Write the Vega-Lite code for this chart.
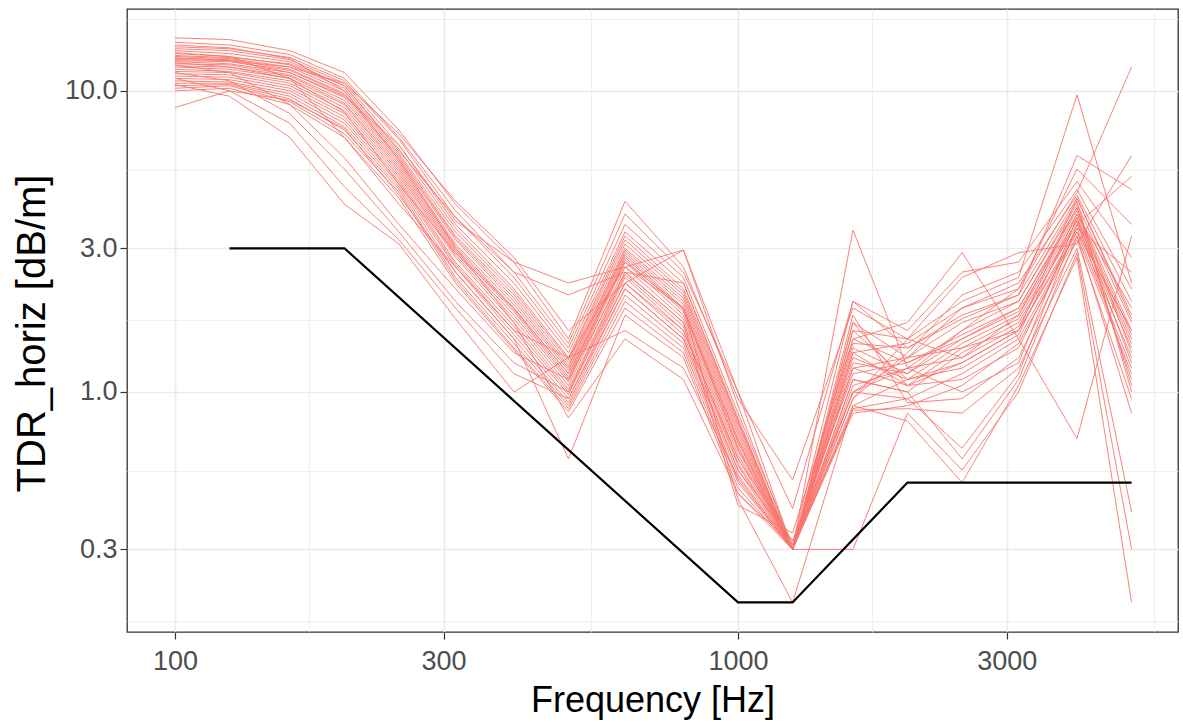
{
"$schema": "https://vega.github.io/schema/vega-lite/v6.json",
"width": 1051, "height": 623,
"autosize": "none",
"padding": {"left": 127, "top": 9, "right": 5, "bottom": 90},
"background": "white",
"config": {"view": {"stroke": "#333333", "strokeWidth": 1.3}, "font": "Liberation Sans",
  "axis": {"domain": false, "gridColor": "#EBEBEB", "tickColor": "#333333", "tickSize": 7, "tickWidth": 1.2, "labelColor": "#4D4D4D", "labelFontSize": 27, "labelFont": "Liberation Sans", "titleFont": "Liberation Sans", "titleFontWeight": "normal", "titleColor": "#000000"}},
"datasets": {
"red": [
{"s":1,"f":100,"v":15.0},{"s":1,"f":125,"v":14.8},{"s":1,"f":160,"v":13.6},{"s":1,"f":200,"v":11.5},{"s":1,"f":250,"v":7.4},{"s":1,"f":315,"v":4.2},{"s":1,"f":400,"v":2.7},{"s":1,"f":500,"v":1.5},{"s":1,"f":630,"v":4.3},{"s":1,"f":800,"v":2.6},{"s":1,"f":1000,"v":0.95},{"s":1,"f":1250,"v":0.51},{"s":1,"f":1600,"v":1.9},{"s":1,"f":2000,"v":1.5},{"s":1,"f":2500,"v":2.0},{"s":1,"f":3150,"v":2.4},{"s":1,"f":4000,"v":9.7},{"s":1,"f":5000,"v":2.3},
{"s":2,"f":100,"v":14.5},{"s":2,"f":125,"v":14.2},{"s":2,"f":160,"v":13.2},{"s":2,"f":200,"v":11.0},{"s":2,"f":250,"v":7.0},{"s":2,"f":315,"v":4.0},{"s":2,"f":400,"v":2.5},{"s":2,"f":500,"v":1.45},{"s":2,"f":630,"v":3.9},{"s":2,"f":800,"v":2.5},{"s":2,"f":1000,"v":1.0},{"s":2,"f":1250,"v":0.30},{"s":2,"f":1600,"v":3.45},{"s":2,"f":2000,"v":1.2},{"s":2,"f":2500,"v":1.6},{"s":2,"f":3150,"v":2.2},{"s":2,"f":4000,"v":4.6},{"s":2,"f":5000,"v":12.0},
{"s":3,"f":100,"v":14.0},{"s":3,"f":125,"v":13.8},{"s":3,"f":160,"v":12.9},{"s":3,"f":200,"v":10.8},{"s":3,"f":250,"v":6.9},{"s":3,"f":315,"v":3.8},{"s":3,"f":400,"v":2.4},{"s":3,"f":500,"v":1.4},{"s":3,"f":630,"v":3.6},{"s":3,"f":800,"v":2.4},{"s":3,"f":1000,"v":0.85},{"s":3,"f":1250,"v":0.31},{"s":3,"f":1600,"v":2.0},{"s":3,"f":2000,"v":1.4},{"s":3,"f":2500,"v":1.8},{"s":3,"f":3150,"v":2.1},{"s":3,"f":4000,"v":4.4},{"s":3,"f":5000,"v":1.8},
{"s":4,"f":100,"v":13.8},{"s":4,"f":125,"v":13.6},{"s":4,"f":160,"v":12.7},{"s":4,"f":200,"v":10.6},{"s":4,"f":250,"v":6.6},{"s":4,"f":315,"v":3.6},{"s":4,"f":400,"v":2.3},{"s":4,"f":500,"v":1.35},{"s":4,"f":630,"v":3.4},{"s":4,"f":800,"v":2.3},{"s":4,"f":1000,"v":0.82},{"s":4,"f":1250,"v":0.30},{"s":4,"f":1600,"v":1.7},{"s":4,"f":2000,"v":1.3},{"s":4,"f":2500,"v":1.7},{"s":4,"f":3150,"v":2.0},{"s":4,"f":4000,"v":4.2},{"s":4,"f":5000,"v":1.7},
{"s":5,"f":100,"v":13.6},{"s":5,"f":125,"v":13.3},{"s":5,"f":160,"v":12.5},{"s":5,"f":200,"v":10.4},{"s":5,"f":250,"v":6.4},{"s":5,"f":315,"v":3.5},{"s":5,"f":400,"v":2.2},{"s":5,"f":500,"v":1.3},{"s":5,"f":630,"v":3.3},{"s":5,"f":800,"v":2.2},{"s":5,"f":1000,"v":0.80},{"s":5,"f":1250,"v":0.30},{"s":5,"f":1600,"v":1.5},{"s":5,"f":2000,"v":1.25},{"s":5,"f":2500,"v":1.55},{"s":5,"f":3150,"v":1.9},{"s":5,"f":4000,"v":4.0},{"s":5,"f":5000,"v":1.6},
{"s":6,"f":100,"v":13.3},{"s":6,"f":125,"v":13.0},{"s":6,"f":160,"v":12.2},{"s":6,"f":200,"v":10.2},{"s":6,"f":250,"v":6.2},{"s":6,"f":315,"v":3.4},{"s":6,"f":400,"v":2.15},{"s":6,"f":500,"v":1.28},{"s":6,"f":630,"v":3.2},{"s":6,"f":800,"v":2.15},{"s":6,"f":1000,"v":0.78},{"s":6,"f":1250,"v":0.30},{"s":6,"f":1600,"v":1.4},{"s":6,"f":2000,"v":1.15},{"s":6,"f":2500,"v":1.5},{"s":6,"f":3150,"v":1.85},{"s":6,"f":4000,"v":3.9},{"s":6,"f":5000,"v":1.55},
{"s":7,"f":100,"v":13.0},{"s":7,"f":125,"v":12.8},{"s":7,"f":160,"v":12.0},{"s":7,"f":200,"v":10.0},{"s":7,"f":250,"v":6.1},{"s":7,"f":315,"v":3.3},{"s":7,"f":400,"v":2.1},{"s":7,"f":500,"v":1.25},{"s":7,"f":630,"v":3.1},{"s":7,"f":800,"v":2.1},{"s":7,"f":1000,"v":0.76},{"s":7,"f":1250,"v":0.30},{"s":7,"f":1600,"v":1.3},{"s":7,"f":2000,"v":1.1},{"s":7,"f":2500,"v":1.45},{"s":7,"f":3150,"v":1.8},{"s":7,"f":4000,"v":3.8},{"s":7,"f":5000,"v":1.5},
{"s":8,"f":100,"v":12.8},{"s":8,"f":125,"v":12.7},{"s":8,"f":160,"v":11.8},{"s":8,"f":200,"v":9.8},{"s":8,"f":250,"v":6.0},{"s":8,"f":315,"v":3.25},{"s":8,"f":400,"v":2.05},{"s":8,"f":500,"v":1.22},{"s":8,"f":630,"v":3.0},{"s":8,"f":800,"v":2.05},{"s":8,"f":1000,"v":0.74},{"s":8,"f":1250,"v":0.30},{"s":8,"f":1600,"v":1.2},{"s":8,"f":2000,"v":1.05},{"s":8,"f":2500,"v":1.4},{"s":8,"f":3150,"v":1.75},{"s":8,"f":4000,"v":3.7},{"s":8,"f":5000,"v":1.45},
{"s":9,"f":100,"v":12.6},{"s":9,"f":125,"v":12.5},{"s":9,"f":160,"v":11.7},{"s":9,"f":200,"v":9.7},{"s":9,"f":250,"v":5.9},{"s":9,"f":315,"v":3.2},{"s":9,"f":400,"v":2.0},{"s":9,"f":500,"v":1.2},{"s":9,"f":630,"v":2.95},{"s":9,"f":800,"v":2.0},{"s":9,"f":1000,"v":0.72},{"s":9,"f":1250,"v":0.30},{"s":9,"f":1600,"v":1.1},{"s":9,"f":2000,"v":1.0},{"s":9,"f":2500,"v":1.35},{"s":9,"f":3150,"v":1.7},{"s":9,"f":4000,"v":3.6},{"s":9,"f":5000,"v":1.4},
{"s":10,"f":100,"v":12.5},{"s":10,"f":125,"v":12.3},{"s":10,"f":160,"v":11.5},{"s":10,"f":200,"v":9.5},{"s":10,"f":250,"v":5.8},{"s":10,"f":315,"v":3.1},{"s":10,"f":400,"v":1.95},{"s":10,"f":500,"v":1.18},{"s":10,"f":630,"v":2.9},{"s":10,"f":800,"v":1.95},{"s":10,"f":1000,"v":0.70},{"s":10,"f":1250,"v":0.30},{"s":10,"f":1600,"v":1.0},{"s":10,"f":2000,"v":1.3},{"s":10,"f":2500,"v":1.9},{"s":10,"f":3150,"v":2.3},{"s":10,"f":4000,"v":4.5},{"s":10,"f":5000,"v":2.0},
{"s":11,"f":100,"v":12.3},{"s":11,"f":125,"v":12.2},{"s":11,"f":160,"v":11.3},{"s":11,"f":200,"v":9.3},{"s":11,"f":250,"v":5.7},{"s":11,"f":315,"v":3.05},{"s":11,"f":400,"v":1.9},{"s":11,"f":500,"v":1.15},{"s":11,"f":630,"v":2.85},{"s":11,"f":800,"v":1.9},{"s":11,"f":1000,"v":0.69},{"s":11,"f":1250,"v":0.30},{"s":11,"f":1600,"v":0.95},{"s":11,"f":2000,"v":1.35},{"s":11,"f":2500,"v":2.1},{"s":11,"f":3150,"v":2.5},{"s":11,"f":4000,"v":4.7},{"s":11,"f":5000,"v":2.2},
{"s":12,"f":100,"v":12.1},{"s":12,"f":125,"v":12.0},{"s":12,"f":160,"v":11.2},{"s":12,"f":200,"v":9.1},{"s":12,"f":250,"v":5.6},{"s":12,"f":315,"v":3.0},{"s":12,"f":400,"v":1.88},{"s":12,"f":500,"v":1.12},{"s":12,"f":630,"v":2.8},{"s":12,"f":800,"v":1.88},{"s":12,"f":1000,"v":0.68},{"s":12,"f":1250,"v":0.30},{"s":12,"f":1600,"v":0.9},{"s":12,"f":2000,"v":1.1},{"s":12,"f":2500,"v":1.25},{"s":12,"f":3150,"v":1.6},{"s":12,"f":4000,"v":3.5},{"s":12,"f":5000,"v":1.3},
{"s":13,"f":100,"v":12.0},{"s":13,"f":125,"v":11.8},{"s":13,"f":160,"v":11.0},{"s":13,"f":200,"v":9.0},{"s":13,"f":250,"v":5.5},{"s":13,"f":315,"v":2.95},{"s":13,"f":400,"v":1.85},{"s":13,"f":500,"v":1.1},{"s":13,"f":630,"v":2.75},{"s":13,"f":800,"v":1.85},{"s":13,"f":1000,"v":0.66},{"s":13,"f":1250,"v":0.30},{"s":13,"f":1600,"v":0.88},{"s":13,"f":2000,"v":0.95},{"s":13,"f":2500,"v":1.15},{"s":13,"f":3150,"v":1.5},{"s":13,"f":4000,"v":3.4},{"s":13,"f":5000,"v":1.2},
{"s":14,"f":100,"v":11.8},{"s":14,"f":125,"v":11.6},{"s":14,"f":160,"v":10.8},{"s":14,"f":200,"v":8.8},{"s":14,"f":250,"v":5.4},{"s":14,"f":315,"v":2.9},{"s":14,"f":400,"v":1.8},{"s":14,"f":500,"v":1.08},{"s":14,"f":630,"v":2.7},{"s":14,"f":800,"v":1.8},{"s":14,"f":1000,"v":0.64},{"s":14,"f":1250,"v":0.30},{"s":14,"f":1600,"v":0.85},{"s":14,"f":2000,"v":0.9},{"s":14,"f":2500,"v":1.05},{"s":14,"f":3150,"v":1.45},{"s":14,"f":4000,"v":3.3},{"s":14,"f":5000,"v":1.15},
{"s":15,"f":100,"v":11.6},{"s":15,"f":125,"v":11.5},{"s":15,"f":160,"v":10.6},{"s":15,"f":200,"v":8.6},{"s":15,"f":250,"v":5.3},{"s":15,"f":315,"v":2.85},{"s":15,"f":400,"v":1.75},{"s":15,"f":500,"v":1.05},{"s":15,"f":630,"v":2.6},{"s":15,"f":800,"v":1.75},{"s":15,"f":1000,"v":0.62},{"s":15,"f":1250,"v":0.30},{"s":15,"f":1600,"v":1.05},{"s":15,"f":2000,"v":1.2},{"s":15,"f":2500,"v":1.3},{"s":15,"f":3150,"v":1.65},{"s":15,"f":4000,"v":3.7},{"s":15,"f":5000,"v":1.1},
{"s":16,"f":100,"v":11.4},{"s":16,"f":125,"v":11.3},{"s":16,"f":160,"v":10.4},{"s":16,"f":200,"v":8.4},{"s":16,"f":250,"v":5.2},{"s":16,"f":315,"v":2.8},{"s":16,"f":400,"v":1.7},{"s":16,"f":500,"v":1.02},{"s":16,"f":630,"v":2.5},{"s":16,"f":800,"v":1.7},{"s":16,"f":1000,"v":0.60},{"s":16,"f":1250,"v":0.32},{"s":16,"f":1600,"v":1.15},{"s":16,"f":2000,"v":1.25},{"s":16,"f":2500,"v":1.5},{"s":16,"f":3150,"v":1.9},{"s":16,"f":4000,"v":4.1},{"s":16,"f":5000,"v":1.05},
{"s":17,"f":100,"v":11.2},{"s":17,"f":125,"v":11.1},{"s":17,"f":160,"v":10.2},{"s":17,"f":200,"v":8.2},{"s":17,"f":250,"v":5.1},{"s":17,"f":315,"v":2.7},{"s":17,"f":400,"v":1.65},{"s":17,"f":500,"v":1.0},{"s":17,"f":630,"v":2.45},{"s":17,"f":800,"v":1.65},{"s":17,"f":1000,"v":0.58},{"s":17,"f":1250,"v":0.30},{"s":17,"f":1600,"v":1.25},{"s":17,"f":2000,"v":1.15},{"s":17,"f":2500,"v":1.6},{"s":17,"f":3150,"v":2.0},{"s":17,"f":4000,"v":4.3},{"s":17,"f":5000,"v":1.0},
{"s":18,"f":100,"v":11.0},{"s":18,"f":125,"v":10.9},{"s":18,"f":160,"v":10.0},{"s":18,"f":200,"v":8.0},{"s":18,"f":250,"v":5.0},{"s":18,"f":315,"v":2.65},{"s":18,"f":400,"v":1.6},{"s":18,"f":500,"v":0.98},{"s":18,"f":630,"v":2.4},{"s":18,"f":800,"v":1.6},{"s":18,"f":1000,"v":0.57},{"s":18,"f":1250,"v":0.30},{"s":18,"f":1600,"v":1.35},{"s":18,"f":2000,"v":1.45},{"s":18,"f":2500,"v":1.9},{"s":18,"f":3150,"v":2.2},{"s":18,"f":4000,"v":5.5},{"s":18,"f":5000,"v":3.6},
{"s":19,"f":100,"v":10.8},{"s":19,"f":125,"v":10.7},{"s":19,"f":160,"v":9.8},{"s":19,"f":200,"v":7.8},{"s":19,"f":250,"v":4.9},{"s":19,"f":315,"v":2.6},{"s":19,"f":400,"v":1.55},{"s":19,"f":500,"v":0.95},{"s":19,"f":630,"v":2.3},{"s":19,"f":800,"v":1.55},{"s":19,"f":1000,"v":0.55},{"s":19,"f":1250,"v":0.30},{"s":19,"f":1600,"v":1.45},{"s":19,"f":2000,"v":1.4},{"s":19,"f":2500,"v":1.75},{"s":19,"f":3150,"v":2.1},{"s":19,"f":4000,"v":6.1},{"s":19,"f":5000,"v":4.7},
{"s":20,"f":100,"v":10.6},{"s":20,"f":125,"v":10.6},{"s":20,"f":160,"v":9.6},{"s":20,"f":200,"v":7.6},{"s":20,"f":250,"v":4.8},{"s":20,"f":315,"v":2.5},{"s":20,"f":400,"v":1.5},{"s":20,"f":500,"v":0.92},{"s":20,"f":630,"v":2.2},{"s":20,"f":800,"v":1.5},{"s":20,"f":1000,"v":0.53},{"s":20,"f":1250,"v":0.30},{"s":20,"f":1600,"v":1.6},{"s":20,"f":2000,"v":1.1},{"s":20,"f":2500,"v":1.2},{"s":20,"f":3150,"v":1.55},{"s":20,"f":4000,"v":3.9},{"s":20,"f":5000,"v":1.9},
{"s":21,"f":100,"v":10.4},{"s":21,"f":125,"v":10.5},{"s":21,"f":160,"v":9.4},{"s":21,"f":200,"v":7.4},{"s":21,"f":250,"v":4.7},{"s":21,"f":315,"v":2.4},{"s":21,"f":400,"v":1.45},{"s":21,"f":500,"v":0.9},{"s":21,"f":630,"v":2.1},{"s":21,"f":800,"v":1.45},{"s":21,"f":1000,"v":0.51},{"s":21,"f":1250,"v":0.30},{"s":21,"f":1600,"v":1.7},{"s":21,"f":2000,"v":1.05},{"s":21,"f":2500,"v":1.1},{"s":21,"f":3150,"v":1.4},{"s":21,"f":4000,"v":3.5},{"s":21,"f":5000,"v":2.5},
{"s":22,"f":100,"v":10.2},{"s":22,"f":125,"v":10.4},{"s":22,"f":160,"v":9.2},{"s":22,"f":200,"v":7.2},{"s":22,"f":250,"v":4.6},{"s":22,"f":315,"v":2.35},{"s":22,"f":400,"v":1.4},{"s":22,"f":500,"v":0.88},{"s":22,"f":630,"v":2.0},{"s":22,"f":800,"v":1.4},{"s":22,"f":1000,"v":0.50},{"s":22,"f":1250,"v":0.30},{"s":22,"f":1600,"v":1.8},{"s":22,"f":2000,"v":0.92},{"s":22,"f":2500,"v":0.95},{"s":22,"f":3150,"v":1.3},{"s":22,"f":4000,"v":3.2},{"s":22,"f":5000,"v":0.95},
{"s":23,"f":100,"v":10.0},{"s":23,"f":125,"v":10.2},{"s":23,"f":160,"v":9.0},{"s":23,"f":200,"v":7.0},{"s":23,"f":250,"v":4.4},{"s":23,"f":315,"v":2.3},{"s":23,"f":400,"v":1.38},{"s":23,"f":500,"v":0.86},{"s":23,"f":630,"v":1.9},{"s":23,"f":800,"v":1.35},{"s":23,"f":1000,"v":0.48},{"s":23,"f":1250,"v":0.30},{"s":23,"f":1600,"v":0.87},{"s":23,"f":2000,"v":0.88},{"s":23,"f":2500,"v":0.85},{"s":23,"f":3150,"v":1.2},{"s":23,"f":4000,"v":3.0},{"s":23,"f":5000,"v":0.4},
{"s":24,"f":100,"v":8.8},{"s":24,"f":125,"v":10.0},{"s":24,"f":160,"v":9.3},{"s":24,"f":200,"v":7.5},{"s":24,"f":250,"v":4.5},{"s":24,"f":315,"v":2.5},{"s":24,"f":400,"v":1.5},{"s":24,"f":500,"v":0.6},{"s":24,"f":630,"v":1.8},{"s":24,"f":800,"v":1.3},{"s":24,"f":1000,"v":0.46},{"s":24,"f":1250,"v":0.30},{"s":24,"f":1600,"v":0.30},{"s":24,"f":2000,"v":0.85},{"s":24,"f":2500,"v":0.55},{"s":24,"f":3150,"v":1.0},{"s":24,"f":4000,"v":2.9},{"s":24,"f":5000,"v":0.3},
{"s":25,"f":100,"v":13.4},{"s":25,"f":125,"v":13.0},{"s":25,"f":160,"v":11.0},{"s":25,"f":200,"v":7.0},{"s":25,"f":250,"v":4.2},{"s":25,"f":315,"v":2.6},{"s":25,"f":400,"v":1.6},{"s":25,"f":500,"v":1.3},{"s":25,"f":630,"v":2.6},{"s":25,"f":800,"v":1.9},{"s":25,"f":1000,"v":0.44},{"s":25,"f":1250,"v":0.20},{"s":25,"f":1600,"v":0.9},{"s":25,"f":2000,"v":0.8},{"s":25,"f":2500,"v":0.5},{"s":25,"f":3150,"v":1.05},{"s":25,"f":4000,"v":2.8},{"s":25,"f":5000,"v":0.2},
{"s":26,"f":100,"v":12.2},{"s":26,"f":125,"v":11.5},{"s":26,"f":160,"v":9.0},{"s":26,"f":200,"v":6.0},{"s":26,"f":250,"v":3.6},{"s":26,"f":315,"v":2.2},{"s":26,"f":400,"v":1.35},{"s":26,"f":500,"v":1.1},{"s":26,"f":630,"v":2.5},{"s":26,"f":800,"v":1.7},{"s":26,"f":1000,"v":0.42},{"s":26,"f":1250,"v":0.34},{"s":26,"f":1600,"v":1.5},{"s":26,"f":2000,"v":1.7},{"s":26,"f":2500,"v":2.9},{"s":26,"f":3150,"v":1.5},{"s":26,"f":4000,"v":0.7},{"s":26,"f":5000,"v":3.3},
{"s":27,"f":100,"v":11.5},{"s":27,"f":125,"v":10.8},{"s":27,"f":160,"v":8.4},{"s":27,"f":200,"v":5.5},{"s":27,"f":250,"v":3.4},{"s":27,"f":315,"v":2.0},{"s":27,"f":400,"v":1.25},{"s":27,"f":500,"v":1.0},{"s":27,"f":630,"v":2.3},{"s":27,"f":800,"v":1.6},{"s":27,"f":1000,"v":0.60},{"s":27,"f":1250,"v":0.30},{"s":27,"f":1600,"v":1.1},{"s":27,"f":2000,"v":1.0},{"s":27,"f":2500,"v":0.6},{"s":27,"f":3150,"v":1.1},{"s":27,"f":4000,"v":3.3},{"s":27,"f":5000,"v":0.85},
{"s":28,"f":100,"v":11.0},{"s":28,"f":125,"v":10.0},{"s":28,"f":160,"v":7.8},{"s":28,"f":200,"v":4.8},{"s":28,"f":250,"v":3.2},{"s":28,"f":315,"v":1.9},{"s":28,"f":400,"v":1.15},{"s":28,"f":500,"v":0.95},{"s":28,"f":630,"v":2.2},{"s":28,"f":800,"v":1.5},{"s":28,"f":1000,"v":0.55},{"s":28,"f":1250,"v":0.32},{"s":28,"f":1600,"v":1.0},{"s":28,"f":2000,"v":0.95},{"s":28,"f":2500,"v":0.65},{"s":28,"f":3150,"v":1.15},{"s":28,"f":4000,"v":3.6},{"s":28,"f":5000,"v":5.2},
{"s":29,"f":100,"v":10.5},{"s":29,"f":125,"v":9.6},{"s":29,"f":160,"v":7.0},{"s":29,"f":200,"v":4.2},{"s":29,"f":250,"v":3.1},{"s":29,"f":315,"v":1.75},{"s":29,"f":400,"v":1.0},{"s":29,"f":500,"v":1.3},{"s":29,"f":630,"v":1.6},{"s":29,"f":800,"v":1.2},{"s":29,"f":1000,"v":0.52},{"s":29,"f":1250,"v":0.30},{"s":29,"f":1600,"v":0.95},{"s":29,"f":2000,"v":1.5},{"s":29,"f":2500,"v":2.4},{"s":29,"f":3150,"v":2.9},{"s":29,"f":4000,"v":3.1},{"s":29,"f":5000,"v":6.1},
{"s":30,"f":100,"v":12.7},{"s":30,"f":125,"v":12.6},{"s":30,"f":160,"v":12.0},{"s":30,"f":200,"v":10.6},{"s":30,"f":250,"v":7.2},{"s":30,"f":315,"v":4.3},{"s":30,"f":400,"v":2.8},{"s":30,"f":500,"v":1.6},{"s":30,"f":630,"v":2.3},{"s":30,"f":800,"v":2.96},{"s":30,"f":1000,"v":1.0},{"s":30,"f":1250,"v":0.41},{"s":30,"f":1600,"v":2.0},{"s":30,"f":2000,"v":1.6},{"s":30,"f":2500,"v":2.5},{"s":30,"f":3150,"v":2.7},{"s":30,"f":4000,"v":5.0},{"s":30,"f":5000,"v":2.8},
{"s":31,"f":100,"v":12.9},{"s":31,"f":125,"v":12.6},{"s":31,"f":160,"v":11.5},{"s":31,"f":200,"v":9.6},{"s":31,"f":250,"v":6.6},{"s":31,"f":315,"v":3.7},{"s":31,"f":400,"v":2.7},{"s":31,"f":500,"v":2.3},{"s":31,"f":630,"v":2.6},{"s":31,"f":800,"v":2.96},{"s":31,"f":1000,"v":0.9},{"s":31,"f":1250,"v":0.30},{"s":31,"f":1600,"v":1.6},{"s":31,"f":2000,"v":1.5},{"s":31,"f":2500,"v":1.3},{"s":31,"f":3150,"v":1.8},{"s":31,"f":4000,"v":4.1},{"s":31,"f":5000,"v":1.35},
{"s":32,"f":100,"v":13.1},{"s":32,"f":125,"v":12.9},{"s":32,"f":160,"v":12.3},{"s":32,"f":200,"v":10.4},{"s":32,"f":250,"v":6.3},{"s":32,"f":315,"v":3.8},{"s":32,"f":400,"v":2.5},{"s":32,"f":500,"v":2.1},{"s":32,"f":630,"v":2.5},{"s":32,"f":800,"v":2.3},{"s":32,"f":1000,"v":0.8},{"s":32,"f":1250,"v":0.30},{"s":32,"f":1600,"v":1.0},{"s":32,"f":2000,"v":1.2},{"s":32,"f":2500,"v":1.0},{"s":32,"f":3150,"v":1.25},{"s":32,"f":4000,"v":3.8},{"s":32,"f":5000,"v":1.25},
{"s":33,"f":100,"v":14.2},{"s":33,"f":125,"v":13.9},{"s":33,"f":160,"v":12.8},{"s":33,"f":200,"v":10.0},{"s":33,"f":250,"v":5.9},{"s":33,"f":315,"v":3.0},{"s":33,"f":400,"v":1.7},{"s":33,"f":500,"v":0.82},{"s":33,"f":630,"v":1.5},{"s":33,"f":800,"v":1.1},{"s":33,"f":1000,"v":0.46},{"s":33,"f":1250,"v":0.31},{"s":33,"f":1600,"v":1.2},{"s":33,"f":2000,"v":1.3},{"s":33,"f":2500,"v":1.4},{"s":33,"f":3150,"v":1.6},{"s":33,"f":4000,"v":3.4},{"s":33,"f":5000,"v":1.6},
{"s":34,"f":100,"v":12.4},{"s":34,"f":125,"v":12.0},{"s":34,"f":160,"v":11.0},{"s":34,"f":200,"v":8.5},{"s":34,"f":250,"v":4.9},{"s":34,"f":315,"v":2.9},{"s":34,"f":400,"v":1.9},{"s":34,"f":500,"v":1.15},{"s":34,"f":630,"v":2.7},{"s":34,"f":800,"v":1.9},{"s":34,"f":1000,"v":0.65},{"s":34,"f":1250,"v":0.30},{"s":34,"f":1600,"v":1.35},{"s":34,"f":2000,"v":1.05},{"s":34,"f":2500,"v":1.25},{"s":34,"f":3150,"v":1.6},{"s":34,"f":4000,"v":4.4},{"s":34,"f":5000,"v":1.75}
],
"limit": [{"f":125,"v":3},{"f":200,"v":3},{"f":1000,"v":0.2},{"f":1250,"v":0.2},{"f":2000,"v":0.5},{"f":5000,"v":0.5}]
},
"encoding": {
  "x": {"field": "f", "type": "quantitative", "title": "Frequency [Hz]",
    "scale": {"type": "log", "domain": [82.2, 6045], "nice": false},
    "axis": {"values": [100, 173.2, 300, 547.7, 1000, 1732, 3000, 5477],
      "labelExpr": "indexof([100,300,1000,3000], datum.value) >= 0 ? format(datum.value, 'd') : ''",
      "gridWidth": {"condition": {"test": "indexof([100,300,1000,3000], datum.value) >= 0", "value": 1.6}, "value": 0.8},
      "tickOpacity": {"condition": {"test": "indexof([100,300,1000,3000], datum.value) >= 0", "value": 1}, "value": 0},
      "labelPadding": 9, "titleFontSize": 36, "titlePadding": 9}},
  "y": {"field": "v", "type": "quantitative", "title": "TDR_horiz [dB/m]",
    "scale": {"type": "log", "domain": [0.1595, 18.7], "nice": false},
    "axis": {"values": [0.1732, 0.3, 0.5477, 1, 1.732, 3, 5.477, 10, 17.32],
      "labelExpr": "indexof([0.3,1,3,10], datum.value) >= 0 ? format(datum.value, '.1f') : ''",
      "gridWidth": {"condition": {"test": "indexof([0.3,1,3,10], datum.value) >= 0", "value": 1.6}, "value": 0.8},
      "tickOpacity": {"condition": {"test": "indexof([0.3,1,3,10], datum.value) >= 0", "value": 1}, "value": 0},
      "labelPadding": 3, "titleFontSize": 40, "titlePadding": 12, "titleY": 324}}
},
"layer": [
  {"data": {"name": "red"}, "mark": {"type": "line", "color": "#F8766D", "strokeWidth": 0.9, "clip": true},
   "encoding": {"detail": {"field": "s", "type": "nominal"}}},
  {"data": {"name": "limit"}, "mark": {"type": "line", "color": "#000000", "strokeWidth": 2.2}}
]
}
